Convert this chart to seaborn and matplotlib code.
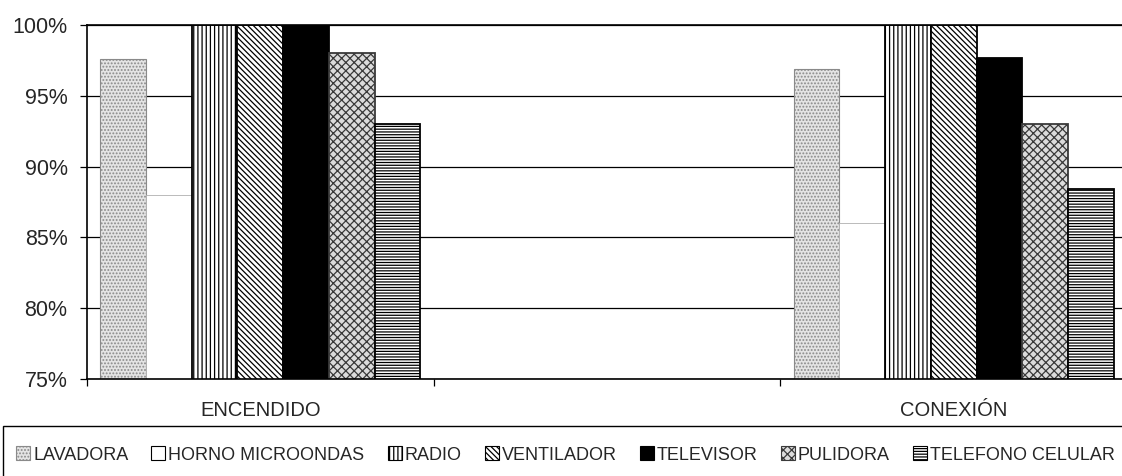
import matplotlib
matplotlib.use('Agg')
import matplotlib.pyplot as plt
import numpy as np
import pandas as pd
import seaborn as sns
from matplotlib.patches import Patch, Rectangle
from matplotlib.ticker import FuncFormatter

categories = ['ENCENDIDO', 'CONEXIÓN']
appliances = ['LAVADORA', 'HORNO MICROONDAS', 'RADIO', 'VENTILADOR',
              'TELEVISOR', 'PULIDORA', 'TELEFONO CELULAR']
encendido = [97.6, 88.0, 100.0, 100.0, 100.0, 98.0, 93.0]
conexion = [96.9, 86.0, 100.0, 100.0, 97.7, 93.0, 88.4]
yticks = [75, 80, 85, 90, 95, 100]

sns.set_theme(style='white')
plt.rcParams['font.family'] = ['Liberation Sans', 'DejaVu Sans']
plt.rcParams['hatch.linewidth'] = 0.9

rows = []
for cat, vals in zip(categories, [encendido, conexion]):
    for a, v in zip(appliances, vals):
        rows.append({'cat': cat, 'app': a, 'val': v})
df = pd.DataFrame(rows)
order = [categories[0], ' ', categories[1]]

styles = {
    'LAVADORA': dict(facecolor='#e4e4e4', edgecolor='#8a8a8a', hatch='.....', linewidth=0.8),
    'HORNO MICROONDAS': dict(facecolor='white', edgecolor='#b0b0b0', hatch=None, linewidth=0.6),
    'RADIO': dict(facecolor='white', edgecolor='black', hatch='||||', linewidth=1.3),
    'VENTILADOR': dict(facecolor='white', edgecolor='black', hatch='\\\\\\\\\\\\', linewidth=1.3),
    'TELEVISOR': dict(facecolor='black', edgecolor='black', hatch=None, linewidth=1.3),
    'PULIDORA': dict(facecolor='#dcdcdc', edgecolor='#3a3a3a', hatch='xxxx', linewidth=1.3),
    'TELEFONO CELULAR': dict(facecolor='white', edgecolor='black', hatch='------', linewidth=1.3),
}

W, H = 1122, 476
fig = plt.figure(figsize=(W / 100, H / 100), dpi=100)
ax = fig.add_axes([87 / W, 1 - 379 / H, (1127 - 87) / W, (379 - 25) / H])

sns.barplot(data=df, x='cat', y='val', hue='app', order=order,
            hue_order=appliances, width=0.923, gap=0, errorbar=None,
            legend=False, ax=ax)

for cont, app in zip(ax.containers, appliances):
    st = styles[app]
    for p in cont.patches:
        p.set_facecolor(st['facecolor'])
        p.set_edgecolor(st['edgecolor'])
        p.set_linewidth(st['linewidth'])
        if st['hatch']:
            p.set_hatch(st['hatch'])

ax.set_ylim(75, 100)
ax.set_xlim(-0.5, 2.5)
ax.set_yticks(yticks)
ax.yaxis.set_major_formatter(FuncFormatter(lambda v, _: f'{int(round(v))}%'))
ax.yaxis.grid(True, color='black', linewidth=0.9)
ax.set_axisbelow(True)
ax.set_xlabel('')
ax.set_ylabel('')

for side in ['left', 'bottom', 'top', 'right']:
    ax.spines[side].set_visible(True)
    ax.spines[side].set_color('black')
    ax.spines[side].set_linewidth(1.2)

ax.tick_params(axis='y', which='major', direction='out', length=5, width=0.9,
               color='black', labelsize=15.5, pad=9, left=True)
ax.tick_params(axis='x', which='major', length=0, labelsize=14.5, pad=16)
ax.set_xticks([-0.5, 0.5, 1.5, 2.5], minor=True)
ax.tick_params(axis='x', which='minor', direction='out', length=5, width=0.9,
               color='black', bottom=True)

# legend box (extends past figure edges like the reference)
fig.patches.append(Rectangle((3 / W, -0.2), 1.3, (1 - 426 / H) + 0.2,
                             transform=fig.transFigure, fill=False,
                             edgecolor='black', linewidth=1.0))

handles = [Patch(facecolor=styles[a]['facecolor'], edgecolor='black'
                 if a not in ('LAVADORA', 'PULIDORA') else styles[a]['edgecolor'],
                 hatch=styles[a]['hatch'], linewidth=0.8) for a in appliances]
leg = fig.legend(handles, appliances, loc='center left',
                 bbox_to_anchor=(16 / W, 1 - 455 / H), ncol=7, frameon=False,
                 prop={'family': ['Liberation Sans', 'DejaVu Sans'], 'size': 13},
                 handlelength=0.78, handleheight=0.78,
                 handletextpad=0.17, columnspacing=1.27, borderaxespad=0,
                 borderpad=0)

fig.savefig('out.png', dpi=100)
